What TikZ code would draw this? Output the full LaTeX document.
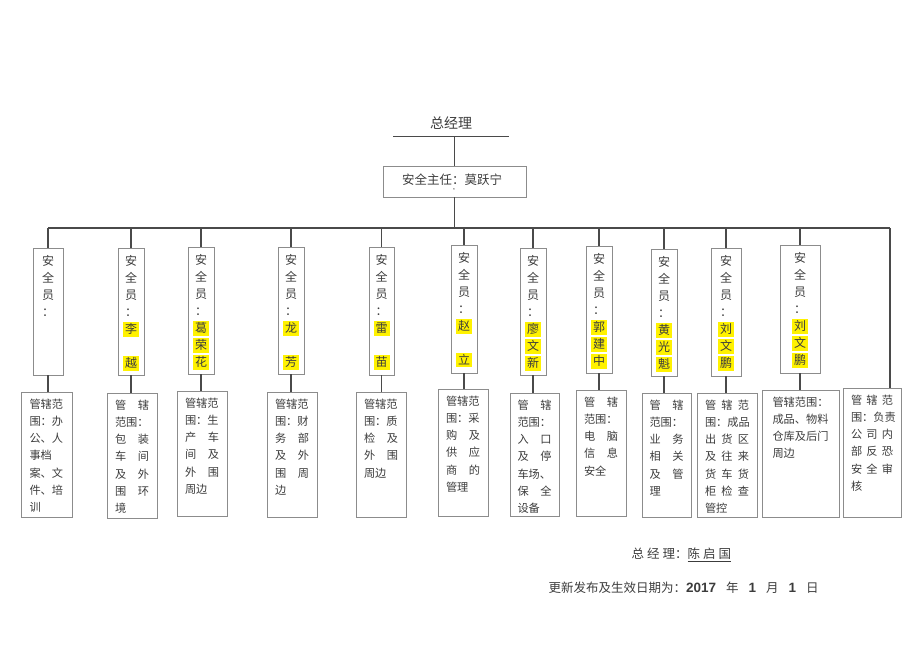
\documentclass[tikz,border=0pt]{standalone}
\usepackage{fontspec}
\setmainfont{Noto Sans CJK SC}
\newfontfamily\cjk{Noto Sans CJK SC}
\newfontfamily\numfont{Liberation Sans}
\usepackage{tikz}
\usetikzlibrary{calc}
\definecolor{boxgray}{HTML}{8C8C8C}
\definecolor{linegray}{HTML}{4A4A4A}
\definecolor{txtgray}{HTML}{3C3C3C}
\newcommand{\hl}[1]{{\setlength{\fboxsep}{2pt}\colorbox{yellow}{#1}}}
\newcommand{\num}[1]{{\numfont\bfseries\fontsize{13.5}{14}\selectfont #1}}

\begin{document}
\begin{tikzpicture}[x=1pt, y=-1pt,
	box/.style={draw=boxgray, line width=0.9pt, inner sep=0pt},
	conn/.style={draw=linegray, line width=1.2pt},
	vtext/.style={font=\cjk\fontsize{12}{17}\selectfont, text=txtgray, inner sep=0pt, align=center, anchor=north},
	btext/.style={font=\cjk\fontsize{11.2}{17.2}\selectfont, text=txtgray, inner sep=0pt, align=left, anchor=north}]
			%%%%% START %%%%%
			\useasboundingbox (0,0) rectangle (920,651);
			
			% top
			\node[font=\cjk\fontsize{14}{16}\selectfont, text=txtgray] (gm) at (451,123) {总经理};
			\coordinate (gmL) at (393,136);
			\coordinate (gmR) at (509,136);
			\draw[conn, line width=0.9pt] (gmL) -- (gmR);
			
			\node[box, minimum width=143, minimum height=31] (chief) at (454.5,181.5) {};
			\node[font=\cjk\fontsize{12.5}{14}\selectfont, text=txtgray] (chieftxt) at (452,180) {安全主任：莫跃宁};
			\node[font=\fontsize{5}{5}\selectfont, text=txtgray, inner sep=0pt] (mark) at (454,191) {*};
			\draw[conn] (chief.north |- gmL) -- (chief.north);
			
			\coordinate (trunkR) at (890,228);
			
			% safety officers
			\node[box, minimum width=30, minimum height=127] (t1) at (48,311.5) {};
			\node[box, minimum width=26, minimum height=127] (t2) at (131,311.5) {};
			\node[box, minimum width=26, minimum height=127] (t3) at (201,310.5) {};
			\node[box, minimum width=26, minimum height=127] (t4) at (291,310.5) {};
			\node[box, minimum width=25, minimum height=128] (t5) at (381.5,311) {};
			\node[box, minimum width=26, minimum height=128] (t6) at (464,309) {};
			\node[box, minimum width=26, minimum height=127] (t7) at (533,311.5) {};
			\node[box, minimum width=26, minimum height=127] (t8) at (599,309.5) {};
			\node[box, minimum width=26, minimum height=127] (t9) at (664,312.5) {};
			\node[box, minimum width=30, minimum height=128] (t10) at (726,312) {};
			\node[box, minimum width=40, minimum height=128] (t11) at (800,309) {};
			
			\node[vtext, yshift=-8] (n1) at (t1.north) {安\\全\\员\\：};
			\node[vtext, yshift=-8] (n2) at (t2.north) {安\\全\\员\\：\\\hl{李}\\\mbox{}\\\hl{越}};
			\node[vtext, yshift=-8] (n3) at (t3.north) {安\\全\\员\\：\\\hl{葛}\\\hl{荣}\\\hl{花}};
			\node[vtext, yshift=-8] (n4) at (t4.north) {安\\全\\员\\：\\\hl{龙}\\\mbox{}\\\hl{芳}};
			\node[vtext, yshift=-8] (n5) at (t5.north) {安\\全\\员\\：\\\hl{雷}\\\mbox{}\\\hl{苗}};
			\node[vtext, yshift=-8] (n6) at (t6.north) {安\\全\\员\\：\\\hl{赵}\\\mbox{}\\\hl{立}};
			\node[vtext, yshift=-8] (n7) at (t7.north) {安\\全\\员\\：\\\hl{廖}\\\hl{文}\\\hl{新}};
			\node[vtext, yshift=-8] (n8) at (t8.north) {安\\全\\员\\：\\\hl{郭}\\\hl{建}\\\hl{中}};
			\node[vtext, yshift=-8] (n9) at (t9.north) {安\\全\\员\\：\\\hl{黄}\\\hl{光}\\\hl{魁}};
			\node[vtext, yshift=-8] (n10) at (t10.north) {安\\全\\员\\：\\\hl{刘}\\\hl{文}\\\hl{鹏}};
			\node[vtext, yshift=-8] (n11) at (t11.north) {安\\全\\员\\：\\\hl{刘}\\\hl{文}\\\hl{鹏}};
			
			% areas
			\node[box, minimum width=51, minimum height=125] (b1) at (46.5,454.5) {};
			\node[box, minimum width=50, minimum height=125] (b2) at (132,455.5) {};
			\node[box, minimum width=50, minimum height=125] (b3) at (202,453.5) {};
			\node[box, minimum width=50, minimum height=125] (b4) at (292,454.5) {};
			\node[box, minimum width=50, minimum height=125] (b5) at (381,454.5) {};
			\node[box, minimum width=50, minimum height=127] (b6) at (463,452.5) {};
			\node[box, minimum width=49, minimum height=123] (b7) at (534.5,454.5) {};
			\node[box, minimum width=50, minimum height=126] (b8) at (601,453) {};
			\node[box, minimum width=49, minimum height=124] (b9) at (666.5,455) {};
			\node[box, minimum width=60, minimum height=124] (b10) at (727,455) {};
			\node[box, minimum width=77, minimum height=127] (b11) at (800.5,453.5) {};
			\node[box, minimum width=58, minimum height=129] (b12) at (872,452.5) {};
			
			\node[btext, text width=34, yshift=-7] (a1) at (b1.north) {管辖范\\围：办\\公、人\\事档\\案、文\\件、培\\训};
			\node[btext, text width=34, yshift=-7] (a2) at (b2.north) {管\hfill 辖\\范围：\\包\hfill 装\\车\hfill 间\\及\hfill 外\\围\hfill 环\\境};
			\node[btext, text width=34, yshift=-7] (a3) at (b3.north) {管辖范\\围：生\\产\hfill 车\\间\hfill 及\\外\hfill 围\\周边};
			\node[btext, text width=34, yshift=-7] (a4) at (b4.north) {管辖范\\围：财\\务\hfill 部\\及\hfill 外\\围\hfill 周\\边};
			\node[btext, text width=34, yshift=-7] (a5) at (b5.north) {管辖范\\围：质\\检\hfill 及\\外\hfill 围\\周边};
			\node[btext, text width=34, yshift=-7] (a6) at (b6.north) {管辖范\\围：采\\购\hfill 及\\供\hfill 应\\商\hfill 的\\管理};
			\node[btext, text width=34, yshift=-7] (a7) at (b7.north) {管\hfill 辖\\范围：\\入\hfill 口\\及\hfill 停\\车场、\\保\hfill 全\\设备};
			\node[btext, text width=34, yshift=-7] (a8) at (b8.north) {管\hfill 辖\\范围：\\电\hfill 脑\\信\hfill 息\\安全};
			\node[btext, text width=34, yshift=-7] (a9) at (b9.north) {管\hfill 辖\\范围：\\业\hfill 务\\相\hfill 关\\及\hfill 管\\理};
			\node[btext, text width=44, yshift=-7] (a10) at (b10.north) {管\hfill 辖\hfill 范\\围：成品\\出\hfill 货\hfill 区\\及\hfill 往\hfill 来\\货\hfill 车\hfill 货\\柜\hfill 检\hfill 查\\管控};
			\node[btext, text width=56, yshift=-7] (a11) at (b11.north) {管辖范围：\\成品、物料\\仓库及后门\\周边};
			\node[btext, text width=42, yshift=-7] (a12) at (b12.north) {管\hfill 辖\hfill 范\\围：负责\\公\hfill 司\hfill 内\\部\hfill 反\hfill 恐\\安\hfill 全\hfill 审\\核};
			
			% connectors
			\draw[conn] (chief.south) -- (chief.south |- trunkR);
			\draw[conn] (t1.north |- trunkR) -- (trunkR);
			\draw[conn] (t1.north |- trunkR) -- (t1.north);
			\draw[conn] (t2.north |- trunkR) -- (t2.north);
			\draw[conn] (t3.north |- trunkR) -- (t3.north);
			\draw[conn] (t4.north |- trunkR) -- (t4.north);
			\draw[conn] (t5.north |- trunkR) -- (t5.north);
			\draw[conn] (t6.north |- trunkR) -- (t6.north);
			\draw[conn] (t7.north |- trunkR) -- (t7.north);
			\draw[conn] (t8.north |- trunkR) -- (t8.north);
			\draw[conn] (t9.north |- trunkR) -- (t9.north);
			\draw[conn] (t10.north |- trunkR) -- (t10.north);
			\draw[conn] (t11.north |- trunkR) -- (t11.north);
			\draw[conn] (trunkR) -- (trunkR |- b12.north);
			
			\draw[conn] (t1.south) -- (t1.south |- b1.north);
			\draw[conn] (t2.south) -- (t2.south |- b2.north);
			\draw[conn] (t3.south) -- (t3.south |- b3.north);
			\draw[conn] (t4.south) -- (t4.south |- b4.north);
			\draw[conn] (t5.south) -- (t5.south |- b5.north);
			\draw[conn] (t6.south) -- (t6.south |- b6.north);
			\draw[conn] (t7.south) -- (t7.south |- b7.north);
			\draw[conn] (t8.south) -- (t8.south |- b8.north);
			\draw[conn] (t9.south) -- (t9.south |- b9.north);
			\draw[conn] (t10.south) -- (t10.south |- b10.north);
			\draw[conn] (t11.south) -- (t11.south |- b11.north);
			
			% signature
			\node[font=\cjk\fontsize{12.5}{14}\selectfont, text=txtgray, anchor=west] (sign) at (628,555) {总\hspace{3pt}经\hspace{3pt}理：\underline{陈\hspace{3pt}启\hspace{3pt}国}};
			\node[font=\cjk\fontsize{12.5}{14}\selectfont, text=txtgray, anchor=west] (date) at (545,588) {更新发布及生效日期为：\num{2017}\hspace{10pt}年\hspace{10pt}\num{1}\hspace{10pt}月\hspace{10pt}\num{1}\hspace{10pt}日};
			
			%%%%% END %%%%%
\end{tikzpicture}
\end{document}
